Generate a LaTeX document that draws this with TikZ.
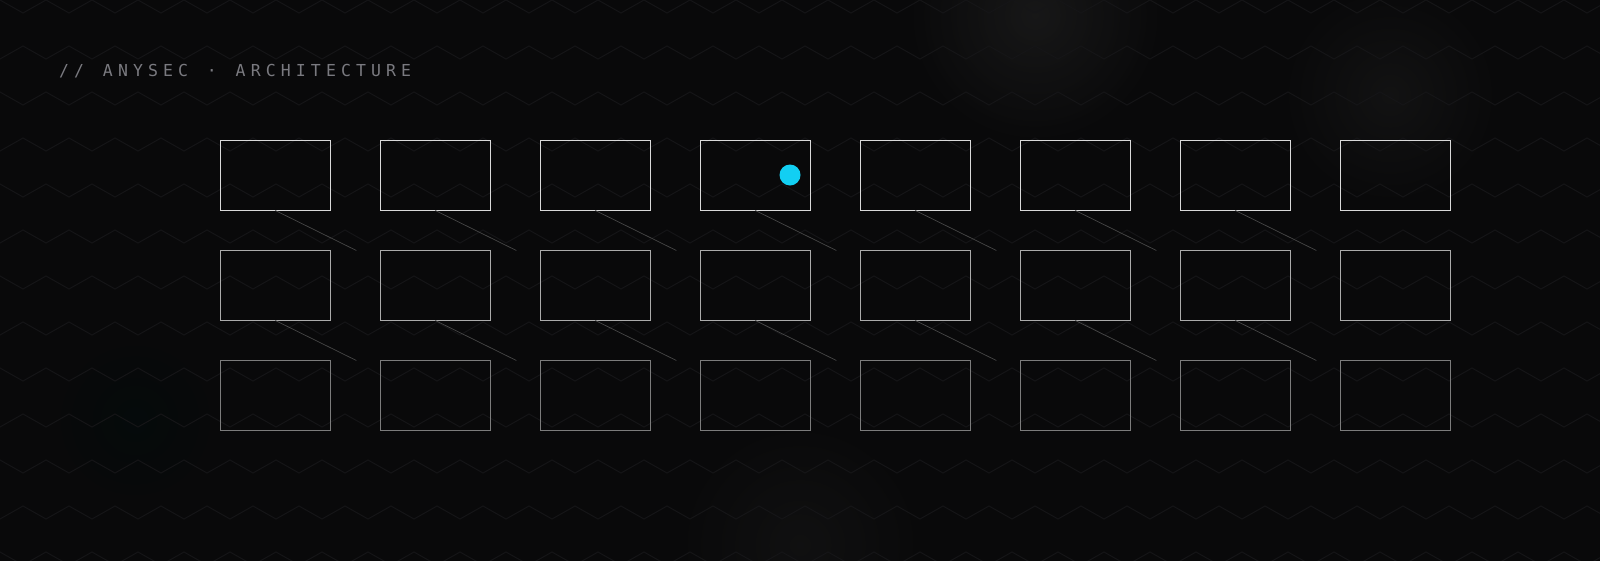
\documentclass[tikz,border=0pt]{standalone}
\usepackage{fontspec}
\newfontfamily\titlemono[LetterSpace=31, WordSpace=1.25]{DejaVu Sans Mono}
\definecolor{bgdark}{HTML}{09090A}
\definecolor{zigline}{HTML}{151517}
\definecolor{cellhi}{HTML}{D9D9D9}
\definecolor{cellmid}{HTML}{ABABAB}
\definecolor{celllow}{HTML}{7C7C7C}
\definecolor{linkgray}{HTML}{474747}
\definecolor{titlegray}{HTML}{7A7A80}
\definecolor{signalcyan}{HTML}{12CFF3}

\begin{document}
\begin{tikzpicture}[x=1pt, y=-1pt,
    cell/.style={rectangle, draw, line width=1pt, minimum width=110.7pt, minimum height=70pt, inner sep=0pt},
    link/.style={draw=linkgray, line width=0.7pt},
    zigzag/.style={draw=zigline, line width=1pt},
    titletext/.style={text=titlegray, font=\titlemono\fontsize{16.5}{18}\selectfont, inner sep=0pt},
    signal/.style={circle, fill=signalcyan, minimum size=21pt, inner sep=0pt}]
                \useasboundingbox (0,0) rectangle (1600,560);
                % Background and glows
                \fill[bgdark] (-5,-5) rectangle (1605,565);
                \begin{scope}
                    \clip (-5,-5) rectangle (1605,565);
                    \shade[inner color=black!87!white, outer color=bgdark, opacity=0.6] (1035,15) circle (130);
                    \shade[inner color=black!89!white, outer color=bgdark, opacity=0.5] (1390,95) circle (110);
                    \shade[inner color=black!89!white, outer color=bgdark, opacity=0.4] (800,545) circle (130);
                    \shade[inner color=bgdark!80!cyan!20!black, outer color=bgdark, opacity=0.5] (135,420) circle (80);

                    % Zigzag pattern
                    \foreach \j in {0,...,12}{
                        \pgfmathsetmacro\off{23*mod(\j,2)}
                        \draw[zigzag] (\off-46, 46*\j) \foreach \k in {0,...,36}{ -- ++(23,13) -- ++(23,-13) };
                    }
                \end{scope}

                % Title
                \node[titletext, anchor=base west] (title) at (59,76) {// ANYSEC · ARCHITECTURE};

                % Grid of cells
                \foreach \r/\shade in {0/cellhi, 1/cellmid, 2/celllow}{
                    \foreach \c in {0,...,7}{
                        \node[cell, draw=\shade] (b-\r-\c) at (275.35+160*\c, 175+110*\r) {};
                    }
                }

                % Links below the first two rows
                \foreach \r in {0,1}{
                    \foreach \c in {0,...,6}{
                        \path (b-\r-\c.south) ++(81,40) coordinate (l-\r-\c);
                        \draw[link] (b-\r-\c.south) -- (l-\r-\c);
                    }
                }

                % Active signal
                \node[signal] (pulse) at (790,175) {};
            \end{tikzpicture}
\end{document}
